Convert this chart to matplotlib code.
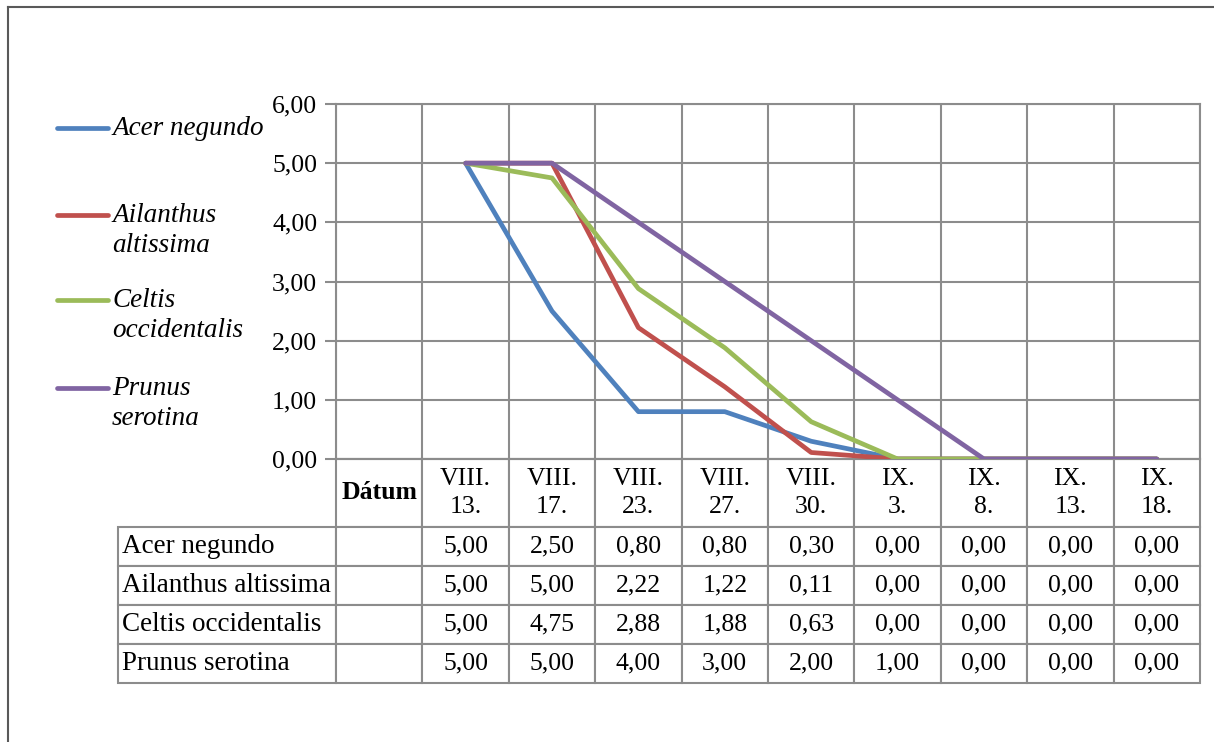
import matplotlib.pyplot as plt
from matplotlib.lines import Line2D
from matplotlib.ticker import FuncFormatter

plt.rcParams['font.family'] = ['Liberation Serif', 'DejaVu Serif']

# adatok (a táblázatból leolvasva)
datumok = ['VIII.\n13.', 'VIII.\n17.', 'VIII.\n23.', 'VIII.\n27.', 'VIII.\n30.',
           'IX.\n3.', 'IX.\n8.', 'IX.\n13.', 'IX.\n18.']
fajok = ['Acer negundo', 'Ailanthus altissima', 'Celtis occidentalis', 'Prunus serotina']
jelmagyarazat = ['Acer negundo', 'Ailanthus\naltissima', 'Celtis\noccidentalis', 'Prunus\nserotina']
acer = [5.00, 2.50, 0.80, 0.80, 0.30, 0.00, 0.00, 0.00, 0.00]
ailanthus = [5.00, 5.00, 2.22, 1.22, 0.11, 0.00, 0.00, 0.00, 0.00]
celtis = [5.00, 4.75, 2.88, 1.88, 0.63, 0.00, 0.00, 0.00, 0.00]
prunus = [5.00, 5.00, 4.00, 3.00, 2.00, 1.00, 0.00, 0.00, 0.00]

szinek = ['#4F81BD', '#C0504D', '#9BBB59', '#8064A2']
racs = '#8C8C8C'
W, H = 1214, 742

def fx(px):
    return px / W

def fy(py):
    return 1 - py / H

fig = plt.figure(figsize=(W / 100, H / 100), dpi=100)

# keret
fig.add_artist(Line2D([fx(8), fx(8)], [fy(7), 0], color='#595959', lw=1.5))
fig.add_artist(Line2D([fx(8), 1], [fy(7), fy(7)], color='#595959', lw=1.5))

ax_w, ax_h = 1200 - 336, 459 - 104
ax = fig.add_axes([fx(336), fy(459), ax_w / W, ax_h / H])

sorok = [acer, ailanthus, celtis, prunus]
xs = list(range(1, len(datumok) + 1))
for vals, szin in zip(sorok, szinek):
    ax.plot(xs, vals, color=szin, lw=3.4, solid_capstyle='round', solid_joinstyle='round', zorder=3)

ax.set_xlim(-0.5, len(datumok) + 0.5)
ax.set_ylim(0, 6)
ax.set_yticks(range(7))
ax.yaxis.set_major_formatter(FuncFormatter(lambda v, p: f'{v:.2f}'.replace('.', ',')))
ax.set_xticks([i - 0.5 for i in range(len(datumok) + 2)])
ax.set_xticklabels([])
ax.tick_params(axis='x', length=0)
ax.tick_params(axis='y', length=8, width=1.5, color=racs, labelsize=18.5, pad=5.5)
ax.grid(True, color=racs, lw=1.5)
ax.set_axisbelow(True)
for s in ax.spines.values():
    s.set_color(racs)
    s.set_linewidth(1.5)

# adattáblázat: első oszlop a fajnevek, a fejléc bal sarka nyitott
cella = [[faj, ''] + [f'{v:.2f}'.replace('.', ',') for v in vals] for faj, vals in zip(fajok, sorok)]
tabla = ax.table(cellText=cella, colLabels=['', 'Dátum'] + datumok,
                 cellLoc='center', colLoc='center',
                 bbox=[(118 - 336) / ax_w, -(683 - 459) / ax_h, (1200 - 118) / ax_w, (683 - 459) / ax_h])
tabla.auto_set_font_size(False)
tabla.set_fontsize(18.5)
for (r, c), cell in tabla.get_celld().items():
    cell.set_edgecolor(racs)
    cell.set_linewidth(1.5)
    cell.set_height((68 if r == 0 else 39) / ax_h)
    cell.set_width((218 if c == 0 else 86.4) / ax_w)
    if c == 0:
        cell.PAD = 0.02
        cell.get_text().set_horizontalalignment('left')
        cell.get_text().set_fontsize(19.5)
    if r == 0:
        cell.get_text().set_linespacing(1.4)
tabla[0, 0].visible_edges = 'open'
tabla[0, 1].get_text().set_fontweight('bold')

# jelmagyarázat
leg_y = [128, 215, 300, 388]
for nev, szin, py in zip(jelmagyarazat, szinek, leg_y):
    fig.add_artist(Line2D([fx(57), fx(108)], [fy(py), fy(py)], color=szin, lw=3.4,
                          solid_capstyle='round'))
    for i, sor in enumerate(nev.split('\n')):
        fig.text(fx(112), fy(py + 7 + i * 30), sor, fontsize=19.5, style='italic',
                 va='baseline')

fig.savefig('out.png', dpi=100)
